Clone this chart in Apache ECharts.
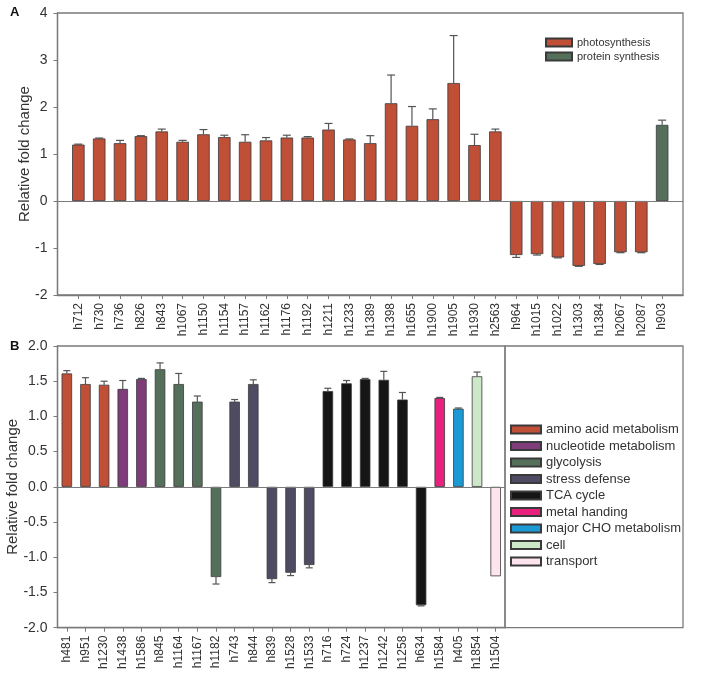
<!DOCTYPE html>
<html><head><meta charset="utf-8">
<script src="https://cdn.jsdelivr.net/npm/echarts@6/dist/echarts.min.js"></script>
<style>html,body{margin:0;padding:0;background:#fff}#c{width:708px;height:691px}</style>
</head><body><div id="c"></div>
<script>
// Panel A data
const catA = ['h712','h730','h736','h826','h843','h1067','h1150','h1154','h1157','h1162','h1176','h1192','h1211','h1233','h1389','h1398','h1655','h1900','h1905','h1930','h2563','h964','h1015','h1022','h1303','h1384','h2067','h2087','h903'];
const valA = [1.20,1.33,1.23,1.38,1.48,1.26,1.42,1.36,1.26,1.29,1.35,1.35,1.52,1.31,1.23,2.08,1.60,1.74,2.51,1.19,1.48,-1.15,-1.13,-1.20,-1.38,-1.34,-1.09,-1.09,1.62];
const errA = [0.01,0.01,0.06,0.01,0.05,0.03,0.10,0.04,0.15,0.06,0.05,0.02,0.13,0.01,0.16,0.60,0.41,0.22,1.01,0.23,0.05,0.05,0.02,0.01,0.01,0.01,0.01,0.01,0.10];
const groupA = [0,0,0,0,0,0,0,0,0,0,0,0,0,0,0,0,0,0,0,0,0,0,0,0,0,0,0,0,1];
const namesA = ['photosynthesis','protein synthesis'];
const colorsA = ['#bf4f37','#55705a'];
const ticksA = [-2,-1,0,1,2,3,4];

// Panel B data
const catB = ['h481','h951','h1230','h1438','h1586','h845','h1164','h1167','h1182','h743','h844','h839','h1528','h1533','h716','h724','h1237','h1242','h1258','h634','h1584','h405','h1854','h1504'];
const valB = [1.61,1.46,1.45,1.39,1.53,1.67,1.46,1.21,-1.28,1.21,1.46,-1.31,-1.22,-1.11,1.36,1.47,1.53,1.52,1.24,-1.68,1.26,1.11,1.57,-1.27];
const errB = [0.04,0.09,0.05,0.12,0.01,0.09,0.15,0.08,0.10,0.03,0.06,0.05,0.04,0.04,0.04,0.04,0.01,0.12,0.10,0.01,0.01,0.01,0.06,0];
const groupB = [0,0,0,1,1,2,2,2,2,3,3,3,3,3,4,4,4,4,4,4,5,6,7,8];
const namesB = ['amino acid metabolism','nucleotide metabolism','glycolysis','stress defense','TCA cycle','metal handing','major CHO metabolism','cell','transport'];
const colorsB = ['#bf4f37','#7e3c7a','#55705a','#4f4b62','#151515','#e8217e','#1c9ad6','#cde8c8','#fde4ee'];
const ticksB = [-2.0,-1.5,-1.0,-0.5,0.0,0.5,1.0,1.5,2.0];

const FONT = 'Liberation Sans';
const AX = '#7a7a7a';
const TXT = '#333';

const padA = ['\u2002', '\u2003'];
const axisCatA = [padA[0]].concat(catA, [padA[1]]);

function errSeries(xi, yi, cats, vals, errs, capW) {
  return {
    type: 'custom', xAxisIndex: xi, yAxisIndex: yi, silent: true, z: 1,
    data: cats.map((c, i) => [c, vals[i], errs[i]]),
    renderItem: function (params, api) {
      const x = api.value(0), v = api.value(1), e = api.value(2);
      if (!e) return null;
      const s = v >= 0 ? 1 : -1;
      const p0 = api.coord([x, v]);
      const p1 = api.coord([x, v + s * e]);
      const st = {stroke: '#555', lineWidth: 1.2};
      return {type: 'group', children: [
        {type: 'line', shape: {x1: p0[0], y1: p0[1], x2: p1[0], y2: p1[1]}, style: st},
        {type: 'line', shape: {x1: p1[0] - capW / 2, y1: p1[1], x2: p1[0] + capW / 2, y2: p1[1]}, style: st}
      ]};
    }
  };
}

const series = [];
namesA.forEach((n, g) => {
  series.push({
    name: n, type: 'bar', xAxisIndex: 0, yAxisIndex: 0, stack: 'A', barWidth: 12.5, z: 2,
    itemStyle: {color: colorsA[g], borderColor: '#3a3a3a', borderWidth: 0.8},
    data: catA.map((c, i) => groupA[i] === g ? [c, valA[i]] : [c, null]),
    markLine: g === 0 ? {silent: true, symbol: 'none', label: {show: false},
      lineStyle: {color: AX, width: 1.2, type: 'solid'}, data: [{yAxis: 0}]} : undefined
  });
});
namesB.forEach((n, g) => {
  series.push({
    name: n, type: 'bar', xAxisIndex: 1, yAxisIndex: 1, stack: 'B', barWidth: 10.5, z: 2,
    itemStyle: {color: colorsB[g], borderColor: '#3a3a3a', borderWidth: 0.8},
    data: catB.map((c, i) => groupB[i] === g ? [c, valB[i]] : [c, null]),
    markLine: g === 0 ? {silent: true, symbol: 'none', label: {show: false},
      lineStyle: {color: AX, width: 1.2, type: 'solid'}, data: [{yAxis: 0}]} : undefined
  });
});
series.push(errSeries(0, 0, catA, valA, errA, 8));
series.push(errSeries(1, 1, catB, valB, errB, 7));

const option = {
  animation: false,
  backgroundColor: '#fff',
  textStyle: {fontFamily: FONT},
  grid: [
    {left: 57.5, top: 13, width: 625.5, height: 282, show: true, borderColor: AX, borderWidth: 1.3, backgroundColor: 'transparent', containLabel: false, outerBoundsMode: 'none'},
    {left: 57.5, top: 346, width: 447.5, height: 281.7, show: true, borderColor: AX, borderWidth: 1.3, backgroundColor: 'transparent', containLabel: false, outerBoundsMode: 'none'}
  ],
  xAxis: [
    {type: 'category', gridIndex: 0, data: axisCatA, boundaryGap: false,
     axisLine: {show: true, onZero: false, lineStyle: {color: AX, width: 1.3}},
     axisTick: {show: true, length: 4, lineStyle: {color: AX}, interval: (i) => i > 0 && i < axisCatA.length - 1},
     axisLabel: {rotate: 90, fontSize: 12, color: TXT, margin: 8, fontFamily: FONT, interval: 0}},
    {type: 'category', gridIndex: 1, data: catB, boundaryGap: true,
     axisLine: {show: true, onZero: false, lineStyle: {color: AX, width: 1.3}},
     axisTick: {show: true, length: 4, alignWithLabel: true, lineStyle: {color: AX}},
     axisLabel: {rotate: 90, fontSize: 12, color: TXT, margin: 8, fontFamily: FONT, interval: 0}}
  ],
  yAxis: [
    {type: 'value', gridIndex: 0, min: ticksA[0], max: ticksA[ticksA.length - 1], interval: 1,
     name: 'Relative fold change', nameLocation: 'middle', nameGap: 25, nameMoveOverlap: false,
     nameTextStyle: {fontSize: 15, color: TXT, fontFamily: FONT},
     axisLine: {show: true, lineStyle: {color: AX, width: 1.3}},
     axisTick: {show: true, length: 4, lineStyle: {color: AX}},
     splitLine: {show: false},
     axisLabel: {fontSize: 14, color: TXT, margin: 10, fontFamily: FONT}},
    {type: 'value', gridIndex: 1, min: ticksB[0], max: ticksB[ticksB.length - 1], interval: 0.5,
     name: 'Relative fold change', nameLocation: 'middle', nameGap: 37, nameMoveOverlap: false,
     nameTextStyle: {fontSize: 15, color: TXT, fontFamily: FONT},
     axisLine: {show: true, lineStyle: {color: AX, width: 1.3}},
     axisTick: {show: true, length: 4, lineStyle: {color: AX}},
     splitLine: {show: false},
     axisLabel: {fontSize: 14, color: TXT, margin: 10, fontFamily: FONT, formatter: (v) => v.toFixed(1)}}
  ],
  legend: [
    {data: namesA, orient: 'vertical', left: 545, top: 37, padding: 0, itemWidth: 26, itemHeight: 8, itemGap: 3,
     textStyle: {fontSize: 11, color: TXT, fontFamily: FONT}, selectedMode: false, icon: 'rect'},
    {data: namesB, orient: 'vertical', left: 510, top: 423, padding: 0, itemWidth: 30, itemHeight: 8, itemGap: 3.5,
     textStyle: {fontSize: 13, color: TXT, fontFamily: FONT}, selectedMode: false, icon: 'rect'}
  ],
  graphic: [
    {type: 'rect', shape: {x: 505, y: 346, width: 178, height: 281.7}, style: {fill: 'none', stroke: AX, lineWidth: 1.3}, z: 0},
    {type: 'text', left: 10, top: 6, style: {text: 'A', font: 'bold 13px "Liberation Sans"', fill: '#111'}},
    {type: 'text', left: 10, top: 340, style: {text: 'B', font: 'bold 13px "Liberation Sans"', fill: '#111'}}
  ],
  series: series
};
const chart = echarts.init(document.getElementById('c'), null, {renderer: 'canvas'});
chart.setOption(option);
</script></body></html>
